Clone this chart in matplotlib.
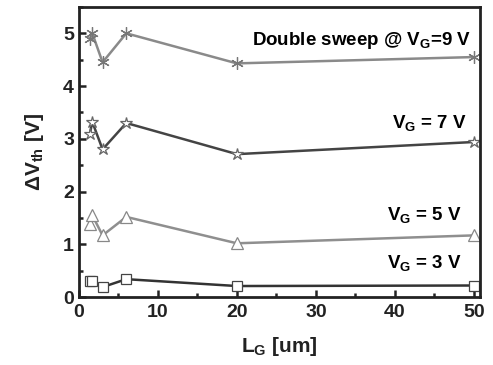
import matplotlib
matplotlib.use("Agg")
import matplotlib.pyplot as plt
from matplotlib.ticker import MultipleLocator

plt.rcParams['font.family'] = ['Liberation Sans', 'DejaVu Sans']
plt.rcParams['font.weight'] = 'bold'
plt.rcParams['axes.labelweight'] = 'bold'
plt.rcParams['mathtext.fontset'] = 'custom'
plt.rcParams['mathtext.rm'] = 'Liberation Sans:bold'
plt.rcParams['mathtext.bf'] = 'Liberation Sans:bold'
plt.rcParams['mathtext.it'] = 'Liberation Sans:bold'
plt.rcParams['mathtext.default'] = 'rm'

lg = [1.4, 1.7, 3, 6, 20, 50]
dvth_9v = [4.9, 5.0, 4.45, 5.0, 4.43, 4.55]
dvth_7v = [3.1, 3.32, 2.8, 3.3, 2.71, 2.94]
dvth_5v = [1.38, 1.55, 1.17, 1.52, 1.02, 1.17]
dvth_3v = [0.3, 0.31, 0.19, 0.34, 0.21, 0.22]

fig = plt.figure(figsize=(4.93, 3.65), dpi=100)
ax = fig.add_axes([0.160, 0.186, 0.814, 0.795])

ax.plot(lg, dvth_9v, color='#8a8a8a', lw=1.8, marker=(6, 2, 0), ms=9, mec='#777777', mew=0.9)
ax.plot(lg, dvth_7v, color='#444444', lw=1.8, marker='*', ms=9, mfc='white', mec='#666666', mew=0.9)
ax.plot(lg, dvth_5v, color='#8f8f8f', lw=1.8, marker='^', ms=9, mfc='white', mec='#888888', mew=0.9)
ax.plot(lg, dvth_3v, color='#333333', lw=1.8, marker='s', ms=7, mfc='white', mec='#444444', mew=0.9)

fs = 13.5
ax.text(49.6, 4.87, 'Double sweep @ V$_{G}$=9 V', ha='right', va='center', fontsize=fs)
ax.text(49.1, 3.3, 'V$_{G}$ = 7 V', ha='right', va='center', fontsize=fs)
ax.text(48.5, 1.55, 'V$_{G}$ = 5 V', ha='right', va='center', fontsize=fs)
ax.text(48.5, 0.64, 'V$_{G}$ = 3 V', ha='right', va='center', fontsize=fs)

ax.set_xlim(0, 50.8)
ax.set_ylim(0, 5.5)
ax.xaxis.set_major_locator(MultipleLocator(10))
ax.xaxis.set_minor_locator(MultipleLocator(5))
ax.yaxis.set_major_locator(MultipleLocator(1))
ax.yaxis.set_minor_locator(MultipleLocator(0.5))
ax.tick_params(which='both', direction='in', width=1.8, labelsize=14, color='#222222', labelcolor='#222222')
ax.tick_params(which='major', length=5)
ax.tick_params(which='minor', length=3)
ax.tick_params(axis='x', pad=5)
for s in ax.spines.values():
    s.set_linewidth(2)
    s.set_color('#222222')

ax.set_xlabel('L$_{G}$ [um]', fontsize=15, labelpad=10, color='#222222')
ax.set_ylabel('$\\Delta$V$_{th}$ [V]', fontsize=15, labelpad=12, color='#222222')

fig.savefig('out.png', dpi=100)
